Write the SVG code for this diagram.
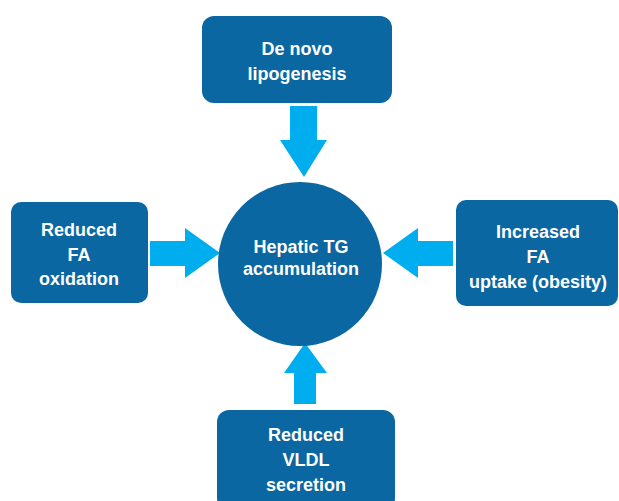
<svg xmlns="http://www.w3.org/2000/svg" width="619" height="501" viewBox="0 0 619 501">
<style>
.box{fill:#0a67a2;}
.arr{fill:#00aeef;}
text{font-family:"Liberation Sans",Arial,sans-serif;font-weight:bold;font-size:18px;fill:#ffffff;text-anchor:middle;}
</style>
<rect width="619" height="501" fill="#ffffff"/>
<g id="connectors">
<polygon class="arr" points="290,106 317,106 317,140 327,140 304,177 280,140 290,140"/>
<polygon class="arr" points="150,241 185,241 185,228 220,253 185,278 185,266 150,266"/>
<polygon class="arr" points="453,241 418,241 418,228 383,253 418,278 418,266 453,266"/>
<polygon class="arr" points="294,404 316,404 316,373 327,373 305,343 284,373 294,373"/>
</g>
<g id="node-top">
<rect class="box" x="202" y="16" width="190" height="87" rx="12"/>
<text x="297" y="55">De novo</text>
<text x="297" y="80">lipogenesis</text>
</g>
<g id="node-left">
<rect class="box" x="11" y="202" width="137" height="101" rx="10"/>
<text x="79" y="236">Reduced</text>
<text x="79" y="261">FA</text>
<text x="79" y="285">oxidation</text>
</g>
<g id="node-right">
<rect class="box" x="456" y="200" width="162" height="106" rx="10"/>
<text x="538" y="238">Increased</text>
<text x="538" y="263">FA</text>
<text x="538" y="288">uptake (obesity)</text>
</g>
<g id="node-bottom">
<rect class="box" x="217" y="410" width="178" height="100" rx="12"/>
<text x="306" y="441">Reduced</text>
<text x="306" y="466">VLDL</text>
<text x="306" y="491">secretion</text>
</g>
<g id="node-center">
<circle class="box" cx="300" cy="264" r="82"/>
<text x="301" y="253">Hepatic TG</text>
<text x="301" y="275">accumulation</text>
</g>
</svg>
